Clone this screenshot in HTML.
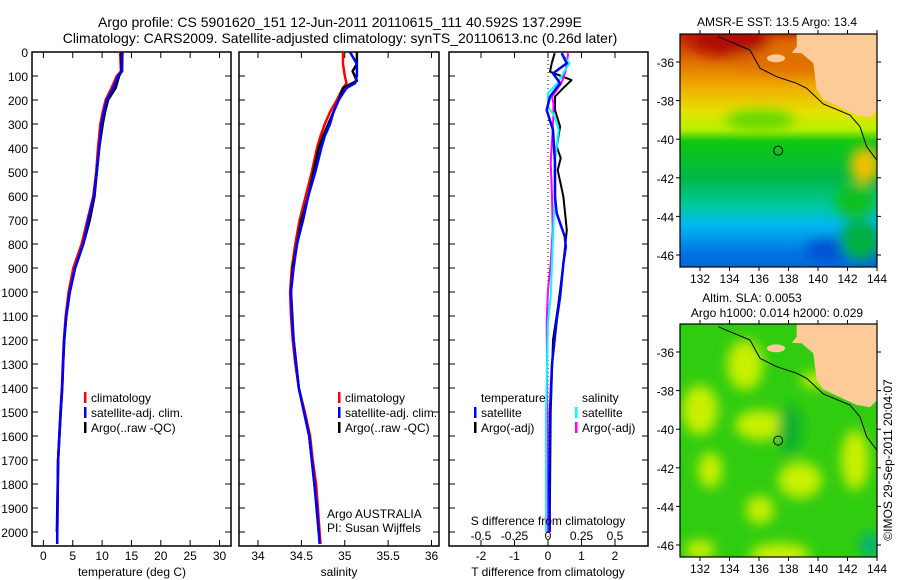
<!DOCTYPE html>
<html><head><meta charset="utf-8"><style>
html,body{margin:0;padding:0;background:#fff;}
svg{display:block;font-family:"Liberation Sans",sans-serif;}
text{fill:#000;}
</style></head><body>
<svg id="fig" width="900" height="580" viewBox="0 0 900 580">
<defs>
<linearGradient id="sstGrad" x1="0" y1="0" x2="0" y2="1">
<stop offset="0" stop-color="#c02000"/><stop offset="0.12" stop-color="#e07000"/><stop offset="0.22" stop-color="#f0a800"/>
<stop offset="0.33" stop-color="#e8e000"/><stop offset="0.41" stop-color="#b8f000"/><stop offset="0.46" stop-color="#10c810"/>
<stop offset="0.62" stop-color="#00b848"/><stop offset="0.74" stop-color="#00c8a0"/><stop offset="0.82" stop-color="#00b8f0"/>
<stop offset="0.95" stop-color="#0070e0"/><stop offset="1" stop-color="#0068d8"/>
</linearGradient>
<filter id="blur"><feGaussianBlur stdDeviation="6"/></filter>
<clipPath id="clipTop"><rect x="680" y="34" width="197" height="233"/></clipPath>
<clipPath id="clipBot"><rect x="680" y="324" width="197" height="233"/></clipPath>
</defs>
<text x="340" y="27" font-size="14" text-anchor="middle">Argo profile: CS 5901620_151 12-Jun-2011 20110615_111 40.592S 137.299E</text>
<text x="340" y="43" font-size="14" text-anchor="middle">Climatology: CARS2009. Satellite-adjusted climatology: synTS_20110613.nc (0.26d later)</text>
<g id="g"></g>
</svg>
<script>
// ---------- data ----------
const depthTicks=[0,100,200,300,400,500,600,700,800,900,1000,1100,1200,1300,1400,1500,1600,1700,1800,1900,2000];
const tempTicks=[0,5,10,15,20,25,30];
const salTicks=[34,34.5,35,35.5,36];
const salTickLabels=["34","34.5","35","35.5","36"];
const tdiffTicks=[-2,-1,0,1,2];
const sdiffTicks=[-0.5,-0.25,0,0.25,0.5];
const sdiffTickLabels=["-0.5","-0.25","0","0.25","0.5"];

const tempDepths=[0,80,100,150,200,250,300,400,500,600,700,800,900,1000,1100,1200,1300,1400,1500,1700,2000,2050];
const tempClim=[13.07,13.2,12.5,11.6,10.6,10.1,9.7,9.3,9.0,8.5,7.5,6.5,5.1,4.3,3.8,3.5,3.3,3.15,2.9,2.5,2.35,2.35];
const tempSat=[13.45,13.4,12.7,11.9,10.8,10.3,9.9,9.5,9.1,8.6,7.65,6.8,5.4,4.5,3.9,3.55,3.35,3.2,2.95,2.5,2.37,2.35];
const tempArgoDepths=[0,80,100,150,200,250,300,400,500,600,700,800,900,1000,1100,1200,1300,1400,1500,1700,2000];
const tempArgo=[13.3,13.3,12.9,12.3,11.0,10.5,10.1,9.5,9.1,8.7,7.9,6.8,5.4,4.5,3.9,3.55,3.35,3.2,2.95,2.5,2.3];

const salDepths=[0,50,100,130,150,200,250,300,350,400,500,600,700,800,900,1000,1100,1200,1300,1400,1500,1600,1700,1800,1900,2000,2050];
const salClim=[34.98,34.98,35.0,35.02,34.98,34.91,34.83,34.77,34.72,34.68,34.62,34.55,34.48,34.43,34.39,34.37,34.38,34.40,34.43,34.47,34.54,34.6,34.63,34.67,34.69,34.71,34.72];
const salSat=[35.06,35.14,35.14,35.12,35.02,34.93,34.87,34.83,34.77,34.73,34.66,34.58,34.52,34.45,34.41,34.38,34.39,34.41,34.44,34.47,34.53,34.59,34.62,34.65,34.68,34.70,34.71];
const salArgoDepths=[0,50,80,120,150,200,250,300,350,400,500,600,700,800,900,1000,1200,1400,1600,1800,2000];
const salArgo=[35.14,35.14,35.09,35.14,34.98,34.93,34.87,34.81,34.75,34.70,34.64,34.58,34.50,34.45,34.40,34.38,34.41,34.47,34.59,34.65,34.70];

const tSatDiffDepths=[5,47,89,130,186,242,325,461,603,672,769,811,880,1019,1117,1300,1500,1800,2000];
const tSatDiff=[0.41,0.56,0.15,0.36,0.06,-0.04,0.15,0.21,0.21,0.26,0.5,0.53,0.46,0.36,0.26,0.12,0.06,0.04,0.05];
const tArgoDiffDepths=[5,47,82,117,151,186,242,311,394,442,492,603,742,880,992,1061,1200,1500,2000];
const tArgoDiff=[0.2,0.11,0.06,0.7,0.45,0.21,0.21,0.36,0.26,0.38,0.29,0.46,0.56,0.46,0.36,0.3,0.15,0.08,0.05];
const sSatDiffDepths=[5,47,82,130,172,228,268,325,461,603,742,880,1019,1125,1500,2000];
const sSatDiff=[0.1,0.16,0.12,0.07,0.0,0.0,0.05,0.08,0.05,0.05,0.04,0.03,0.02,0.0,-0.015,-0.015];
const sArgoDiffDepths=[5,47,82,130,186,214,268,325,461,530,603,742,880,992,1117,1500,2000];
const sArgoDiff=[0.15,0.14,0.13,0.1,0.03,0.04,0.04,0.035,0.02,0.025,0.03,0.035,0.02,0.0,-0.01,-0.005,-0.005];

const latTicks=[-36,-38,-40,-42,-44,-46];
const lonTicks=[132,134,136,138,140,142,144];
const argoLat=-40.592, argoLon=137.299;

// ---------- helpers ----------
const NS="http://www.w3.org/2000/svg";
const G=document.getElementById('g');
function el(tag,attrs,parent){const e=document.createElementNS(NS,tag);for(const k in attrs)e.setAttribute(k,attrs[k]);(parent||G).appendChild(e);return e;}
function txt(x,y,s,size,anchor,parent){const t=el('text',{x:x,y:y,'font-size':size,'text-anchor':anchor||'start'},parent);t.textContent=s;return t;}
const yD=d=>52+0.24*d;
const xT=t=>43.4+5.87*t;
const xS=s=>258+86.75*(s-34);
const xTD=v=>548+33.5*v;
const xSD=v=>548+134*v;
const lonX=l=>700+(l-132)*14.75;
const latY=(l,off)=>62+off+(-36-l)*19.3;
const PT=52, PB=546;

function panel(x0,x1,name){
  const r=el('rect',{x:x0,y:PT,width:x1-x0,height:PB-PT,fill:'none',stroke:'#000','stroke-width':1.5});
  
  
  depthTicks.forEach(d=>{el('line',{x1:x0,x2:x0+6,y1:yD(d),y2:yD(d),stroke:'#000'});el('line',{x1:x1-6,x2:x1,y1:yD(d),y2:yD(d),stroke:'#000'});});
}
function xticks(vals,fx,labels,name){
  vals.forEach((v,i)=>{const x=fx(v);el('line',{x1:x,x2:x,y1:PT,y2:PT+6,stroke:'#000'});el('line',{x1:x,x2:x,y1:PB-6,y2:PB,stroke:'#000'});
    const t=txt(x,560,labels?labels[i]:String(v),12,'middle');
    
    });
}
function line(ds,vs,fx,color,w,name){
  const pts=ds.map((d,i)=>fx(vs[i]).toFixed(1)+','+yD(d).toFixed(1)).join(' ');
  const p=el('polyline',{points:pts,fill:'none',stroke:color,'stroke-width':w,'stroke-linejoin':'round'});
  
  
}
function legend(x,y,color,label,name){
  el('rect',{x:x,y:y-10,width:2.5,height:11,fill:color});
  const t=txt(x+7,y,label,12);
  
  
}

// ---------- panel 1 temperature ----------
panel(32,231,'temperature-panel');
depthTicks.forEach(d=>{const t=txt(28,yD(d)+5,String(d),12,'end');
  
  });
xticks(tempTicks,xT,null,'temperature-tick-label');
line(tempDepths,tempClim,xT,'#ff0000',2.5,'temperature-climatology-line');
line(tempArgoDepths,tempArgo,xT,'#000000',2.5,'temperature-argo-line');
line(tempDepths,tempSat,xT,'#0000ff',2.5,'temperature-satellite-line');
legend(84,402,'#ff0000','climatology','legend-climatology');
legend(84,417,'#0000ff','satellite-adj. clim.','legend-satellite');
legend(84,432,'#000000','Argo(..raw -QC)','legend-argo');
let t=txt(132,576,'temperature (deg C)',12,'middle');



// ---------- panel 2 salinity ----------
panel(239,439,'salinity-panel');
xticks(salTicks,xS,salTickLabels,'salinity-tick-label');
line(salDepths,salClim,xS,'#ff0000',2.5,'salinity-climatology-line');
line(salArgoDepths,salArgo,xS,'#000000',2.5,'salinity-argo-line');
line(salDepths,salSat,xS,'#0000ff',2.5,'salinity-satellite-line');
legend(338,402,'#ff0000','climatology','legend-climatology-sal');
legend(338,417,'#0000ff','satellite-adj. clim.','legend-satellite-sal');
legend(338,432,'#000000','Argo(..raw -QC)','legend-argo-sal');
t=txt(327,518,'Argo AUSTRALIA',12);


t=txt(327,532,'PI: Susan Wijffels',12);


t=txt(339,576,'salinity',12,'middle');



// ---------- panel 3 differences ----------
panel(449,648,'difference-panel');
xticks(tdiffTicks,xTD,null,'tdiff-tick-label');
el('line',{x1:548,x2:548,y1:PT,y2:PB,stroke:'#000','stroke-dasharray':'1,3'});
line(tArgoDiffDepths,tArgoDiff,xTD,'#000000',2,'tdiff-argo-line');
line(sArgoDiffDepths,sArgoDiff,xSD,'#ff00ff',2,'sdiff-argo-line');
line(sSatDiffDepths,sSatDiff,xSD,'#00ffff',2,'sdiff-satellite-line');
line(tSatDiffDepths,tSatDiff,xTD,'#0000ff',2.5,'tdiff-satellite-line');
t=txt(481,402,'temperature',12);


legend(474,417,'#0000ff','satellite','legend-tdiff-satellite');
legend(474,432,'#000000','Argo(-adj)','legend-tdiff-argo');
t=txt(582,402,'salinity',12);


legend(575,417,'#00ffff','satellite','legend-sdiff-satellite');
legend(575,432,'#ff00ff','Argo(-adj)','legend-sdiff-argo');
t=txt(548,525,'S difference from climatology',12,'middle');


sdiffTicks.forEach((v,i)=>{const s=txt(xSD(v),540,sdiffTickLabels[i],12,'middle');
  
  });
t=txt(548,576,'T difference from climatology',12,'middle');



// ---------- maps ----------
function coast(off,clip){
  const g=el('g',{'clip-path':'url(#'+clip+')'});
  const land=[[440,103],[440,140],[425,158],[455,160],[490,190],[500,270],[520,298],[570,322],[620,345],[660,352],[682,330],[682,103]]
    .map(p=>(650+p[0]/3).toFixed(1)+','+(p[1]/3+off).toFixed(1)).join(' ');
  const l=el('polygon',{points:land,fill:'#fccb97'},g);
  
  
  el('ellipse',{cx:650+378/3,cy:175/3+off,rx:9,ry:4,fill:'#fccb97'},g);
  el('ellipse',{cx:880,cy:136+off,rx:4,ry:5,fill:'#fccb97'},g);
  const iso=[[205,110],[240,125],[300,150],[330,205],[380,230],[440,250],[470,265],[520,312],[600,345],[630,380],[650,440],[682,482]]
    .map(p=>(650+p[0]/3).toFixed(1)+','+(p[1]/3+off).toFixed(1)).join(' ');
  el('polyline',{points:iso,fill:'none',stroke:'#000','stroke-width':1},g);
  return g;
}
function mapFrame(off,name){
  const r=el('rect',{x:680,y:34+off,width:197,height:233,fill:'none',stroke:'#000','stroke-width':1.2});
  
  
  latTicks.forEach(l=>{const y=latY(l,off);el('line',{x1:676,x2:680,y1:y,y2:y,stroke:'#000'});el('line',{x1:877,x2:881,y1:y,y2:y,stroke:'#000'});
    const s=txt(674,y+5,String(l),12,'end');
    
    });
  lonTicks.forEach(l=>{const x=lonX(l);el('line',{x1:x,x2:x,y1:30+off,y2:34+off,stroke:'#000'});el('line',{x1:x,x2:x,y1:267+off,y2:271+off,stroke:'#000'});
    const s=txt(x,283+off,String(l),12,'middle');
    
    });
  const c=el('circle',{cx:lonX(argoLon),cy:latY(argoLat,off),r:4.5,fill:'none',stroke:'#000','stroke-width':1});
  
  
}
// top SST map
let mg=el('g',{'clip-path':'url(#clipTop)'});


el('rect',{x:680,y:34,width:197,height:233,fill:'url(#sstGrad)'},mg);
let bg=el('g',{filter:'url(#blur)'},mg);
el('ellipse',{cx:800,cy:55,rx:70,ry:18,fill:'#e07000'},bg);
el('ellipse',{cx:730,cy:40,rx:40,ry:16,fill:'#b01000'},bg);
el('ellipse',{cx:760,cy:120,rx:35,ry:10,fill:'#60d800'},bg);
el('ellipse',{cx:865,cy:165,rx:15,ry:18,fill:'#f0c000'},bg);
el('ellipse',{cx:855,cy:200,rx:20,ry:18,fill:'#10c020'},bg);
el('ellipse',{cx:830,cy:250,rx:25,ry:10,fill:'#0050d0'},bg);
el('ellipse',{cx:860,cy:240,rx:20,ry:20,fill:'#00b040'},bg);
coast(0,'clipTop');
mapFrame(0,'sst-map');
t=txt(777,26,'AMSR-E SST: 13.5 Argo: 13.4',12,'middle');


// bottom SLA map
mg=el('g',{'clip-path':'url(#clipBot)'});


el('rect',{x:680,y:324,width:197,height:233,fill:'#30cc10'},mg);
bg=el('g',{filter:'url(#blur)'},mg);
[[745,365,18,25],[760,425,25,15],[700,410,18,25],[710,470,12,18],[800,480,22,18],[855,460,14,30],[760,510,14,14],[780,555,30,12],[820,380,20,8],[700,550,15,10]]
  .forEach(e=>el('ellipse',{cx:e[0],cy:e[1],rx:e[2],ry:e[3],fill:'#c8f000'},bg));
el('ellipse',{cx:870,cy:545,rx:10,ry:12,fill:'#00b080'},bg);
el('ellipse',{cx:790,cy:430,rx:12,ry:25,fill:'#10b030'},bg);
coast(290,'clipBot');
mapFrame(290,'sla-map');
t=txt(752,302,'Altim. SLA: 0.0053',12,'middle');


t=txt(777,317,'Argo h1000: 0.014 h2000: 0.029',12,'middle');


t=txt(0,0,'©IMOS 29-Sep-2011 20:04:07',12,'middle');
t.setAttribute('transform','translate(892,460) rotate(-90)');


</script>
</body></html>
